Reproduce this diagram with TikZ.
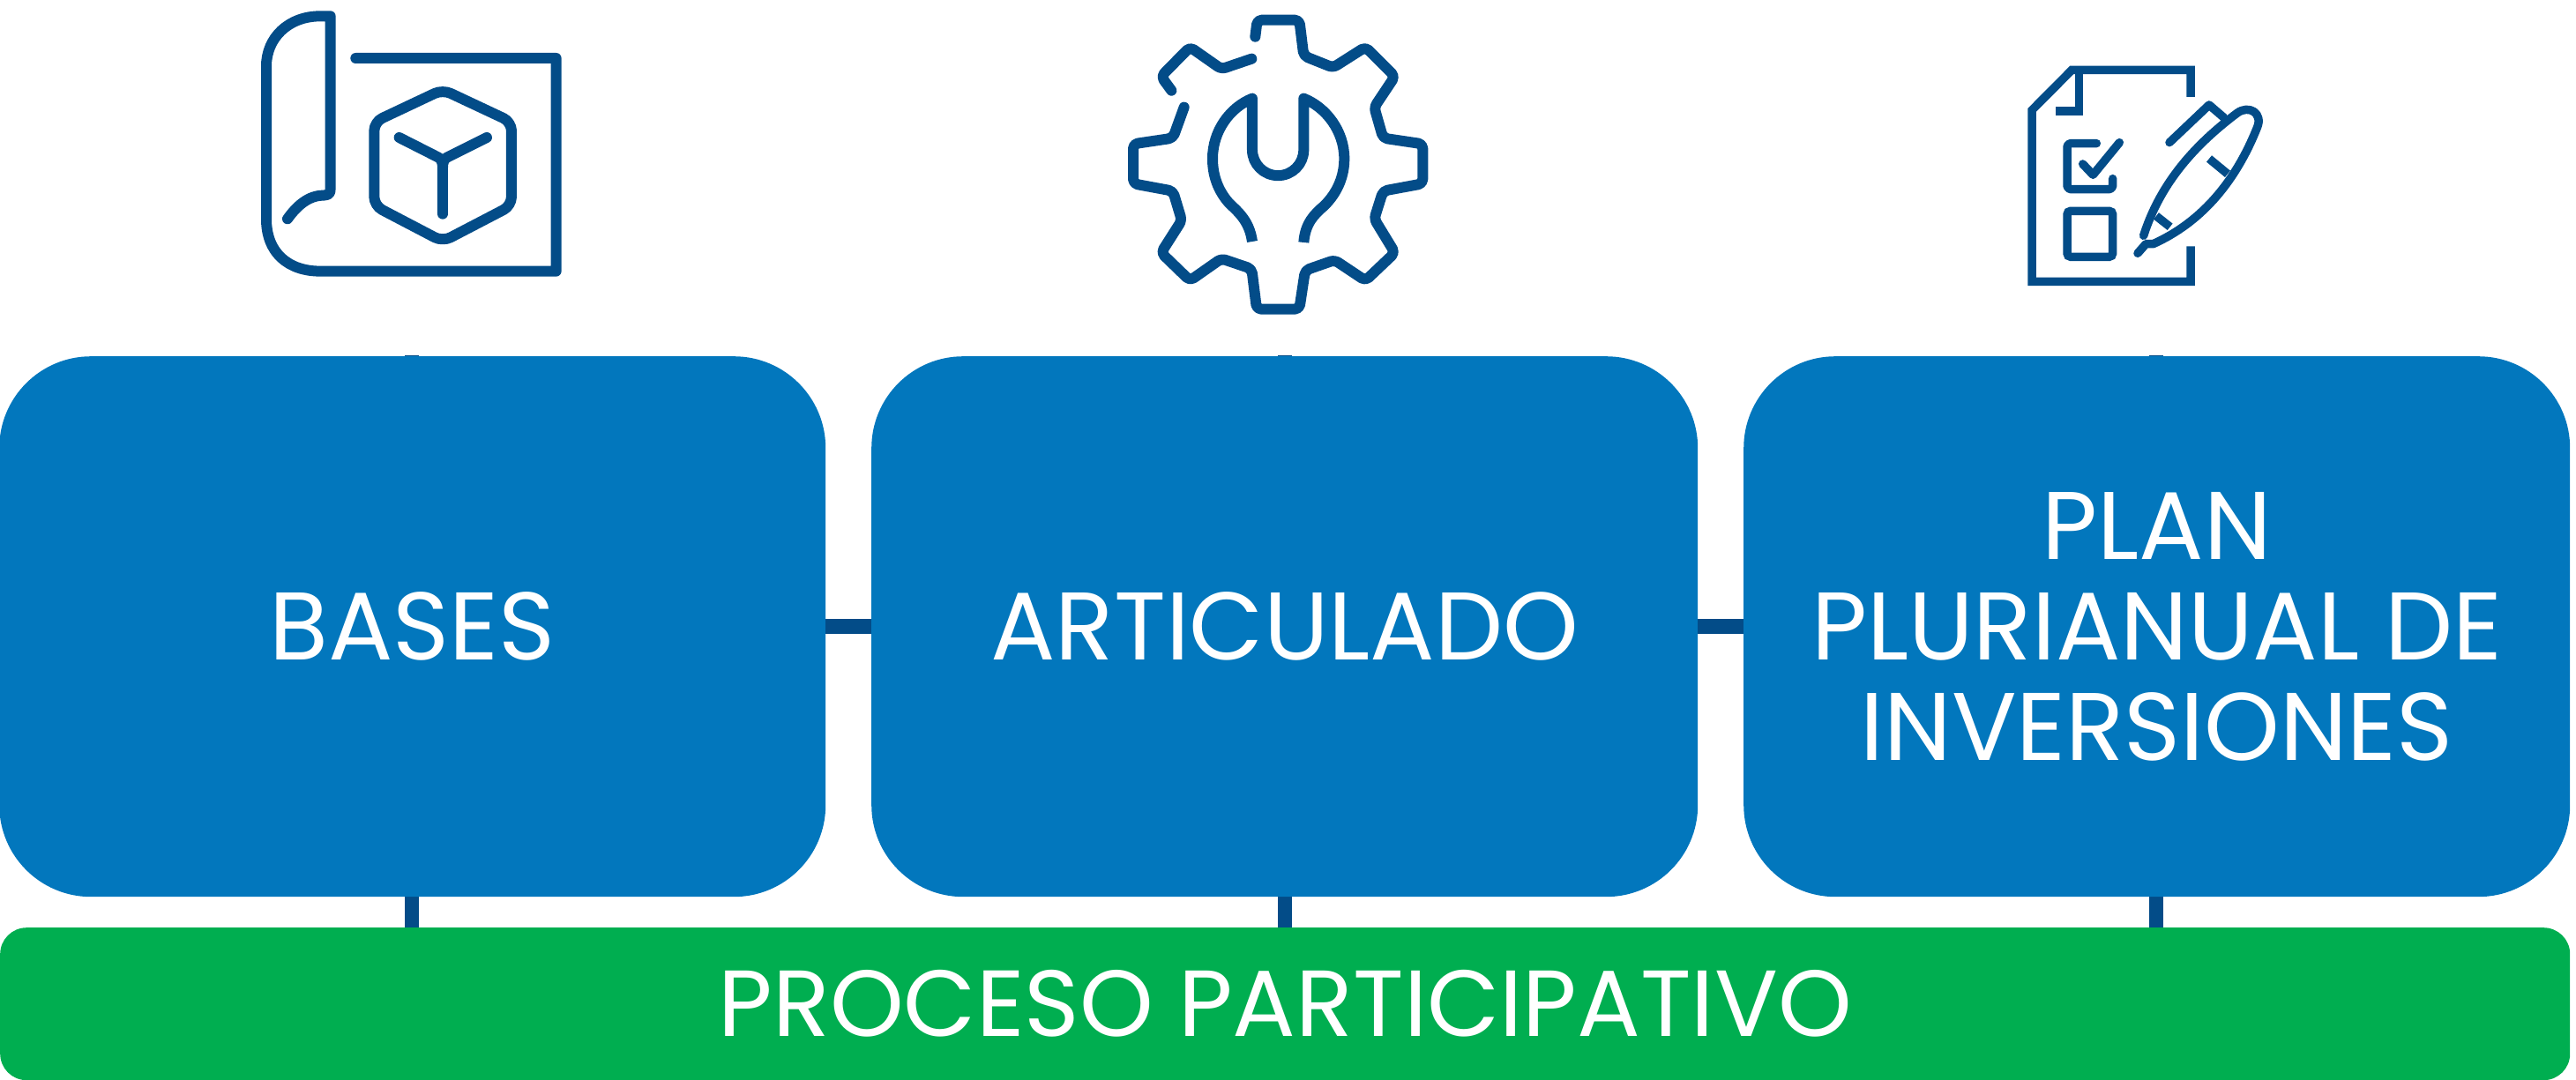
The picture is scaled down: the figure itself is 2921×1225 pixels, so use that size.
\documentclass[tikz,border=0pt]{standalone}
\usepackage{fontspec}
\setmainfont{Poppins}
\definecolor{boxblue}{HTML}{0277BD}
\definecolor{navy}{HTML}{034C88}
\definecolor{pgreen}{HTML}{00AE50}
\tikzset{
  bluebox/.style={fill=boxblue,draw=none,rounded corners=104pt,minimum width=937pt,minimum height=613pt,inner sep=0pt,anchor=north west,text=white,font=\fontsize{109}{114}\selectfont,align=center},
  greenbox/.style={fill=pgreen,draw=none,rounded corners=30pt,minimum width=2914pt,minimum height=173pt,inner sep=0pt,anchor=north west,text=white,font=\fontsize{106.5}{114}\selectfont},
  link/.style={draw=navy,line width=16pt},
  hlink/.style={draw=navy,line width=17pt},
  ico/.style={draw=navy,line width=12pt,line cap=round,line join=round},
  ict/.style={draw=navy,line width=9.5pt,line cap=butt,line join=miter}
}
\begin{document}
\begin{tikzpicture}[x=1pt,y=-1pt]
\useasboundingbox (0,0) rectangle (2921,1225);
\fill[white] (0,0) rectangle (2921,1225);
% connectors (behind the boxes)
\coordinate (t1) at (467,403);
\coordinate (t2) at (1457,403);
\coordinate (t3) at (2445,403);
\coordinate (g1) at (467,1056);
\coordinate (g2) at (1457,1056);
\coordinate (g3) at (2445,1056);
\draw[link] (t1) -- (g1);
\draw[link] (t2) -- (g2);
\draw[link] (t3) -- (g3);
% boxes
\node[bluebox] (b1) at (-1,404) {BASES};
\node[bluebox] (b2) at (988,404) {ARTICULADO};
\node[bluebox] (b3) at (1977,404) {PLAN\\PLURIANUAL DE\\INVERSIONES};
\node[greenbox] (pg) at (0,1052) {PROCESO PARTICIPATIVO};
\draw[hlink] (b1.east) -- (b2.west);
\draw[hlink] (b2.east) -- (b3.west);
% plan icon
\begin{scope}[shift={(270,0)},x=0.3333pt,y=-0.3333pt]
\draw[ico] (168,745) .. controls (200,700) and (240,665) .. (290,665) .. controls (310,663) and (314,660) .. (314,640) -- (314,55) -- (280,55) .. controls (170,55) and (96,130) .. (96,225) -- (96,745) .. controls (96,860) and (170,923) .. (280,923) -- (1082,923) -- (1082,198) -- (400,198);
\draw[ico,rounded corners=10pt] (696,305) -- (930,415) -- (930,700) -- (696,822) -- (463,700) -- (463,415) -- cycle;
\draw[ico] (548,468) -- (680,535) .. controls (690,540) and (696,550) .. (696,570) -- (696,728);
\draw[ico] (846,468) -- (712,535) .. controls (702,540) and (696,550) .. (696,570);
\end{scope}
% gear icon
\begin{scope}[shift={(1260,0)},x=0.3333pt,y=-0.3333pt]
\draw[ico,rounded corners=5pt] (490,125) -- (497,68) -- (640,68) -- (655,190) -- (755,230) -- (865,160) -- (965,260) -- (895,365) -- (925,470) -- (1060,490) -- (1060,625) -- (925,650) -- (895,745) -- (965,860) -- (865,955) -- (760,885) -- (660,920) -- (640,1052) -- (495,1052) -- (478,915) -- (375,880) -- (268,955) -- (170,860) -- (240,750) -- (210,650) -- (75,625) -- (75,490) -- (210,470) -- (248,365);
\draw[ico,rounded corners=5pt] (205,308) -- (170,260) -- (268,160) -- (375,235) -- (478,200);
\draw[ico,line cap=butt] (480,822) .. controls (470,750) and (430,720) .. (400,690) .. controls (365,650) and (345,600) .. (345,540) .. controls (345,445) and (405,365) .. (480,335) -- (480,510) .. controls (480,558) and (519,597.5) .. (567.5,597.5) .. controls (616,597.5) and (655,558) .. (655,510) -- (655,335) .. controls (730,365) and (793,445) .. (793,540) .. controls (793,600) and (770,655) .. (725,700) .. controls (690,730) and (660,760) .. (655,825);
\end{scope}
% form and pen icon
\begin{scope}[shift={(2220,50)},x=0.3333pt,y=-0.3333pt]
\draw[ict] (792,180) -- (792,88) -- (388,88) -- (252,225) -- (252,808) -- (792,808) -- (792,688);
\draw[ict] (412,100) -- (412,228) -- (333,228);
\draw[ict,rounded corners=4pt,line cap=round,line join=round] (472,338) -- (372,338) -- (372,494) -- (527,494) -- (527,458);
\draw[ict,line cap=round,line join=round] (425,408) -- (460,445) -- (550,335);
\draw[ict,rounded corners=4pt] (372,568) rectangle (527,724);
\draw[ict,line cap=round,line join=round] (720,335) -- (855,207) -- (905,250);
\draw[ict,line cap=round,line join=round] (632,652) .. controls (690,470) and (810,340) .. (950,235) .. controls (990,205) and (1040,235) .. (1018,285) .. controls (940,480) and (820,610) .. (665,680) -- (640,680) -- (612,712);
\draw[ict] (855,390) -- (918,442);
\draw[ict] (675,585) -- (722,622);
\end{scope}
\end{tikzpicture}
\end{document}
